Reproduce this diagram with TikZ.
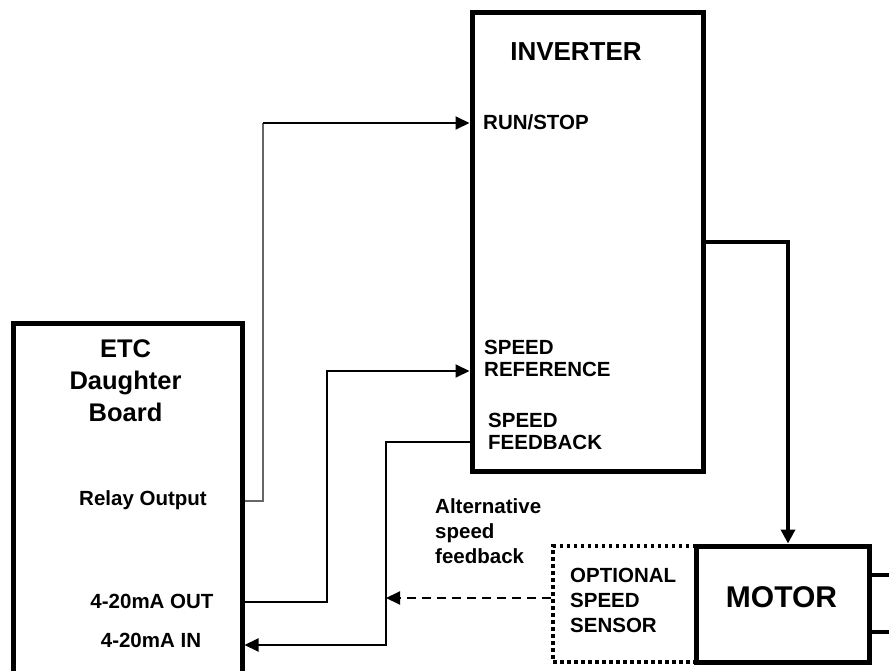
\documentclass[tikz,border=0pt]{standalone}
\usepackage{fontspec}
\setmainfont{Liberation Sans}
\usetikzlibrary{arrows.meta}
\begin{document}
\begin{tikzpicture}[x=1pt,y=-1pt,
  blk/.style={draw,line width=5pt,inner sep=0pt},
  dotbox/.style={draw,line width=3.5pt,dash pattern=on 3.5pt off 3.5pt,inner sep=0pt},
  txt/.style={inner sep=0pt,font=\bfseries\fontsize{20.5}{22}\selectfont,align=left},
  txtb/.style={inner sep=0pt,font=\bfseries\fontsize{20.5}{25}\selectfont,align=left},
  sig/.style={line width=2pt,-{Triangle[length=14pt,width=13pt]}},
  relayline/.style={line width=1.5pt,draw=black!60},
  power/.style={line width=4.5pt,line join=miter,-{Triangle[length=14pt,width=14pt]}},
  shaft/.style={line width=4.5pt}]
\useasboundingbox (0,0) rectangle (889,671);
\clip (0,0) rectangle (889,671);

% blocks
\node[blk,minimum width=229pt,minimum height=380pt] (etc) at (127.5,513) {};
\node[blk,minimum width=231pt,minimum height=458pt] (inv) at (587.5,242) {};
\node[dotbox,minimum width=143pt,minimum height=116pt] (sens) at (624.5,604) {};
\node[blk,minimum width=173pt,minimum height=116pt] (motor) at (782.5,604) {};

% texts
\node[inner sep=0pt,align=center,font=\bfseries\fontsize{25.5}{32}\selectfont] (etct) at (125.5,381) {ETC\\Daughter\\Board};
\node[txt,anchor=base] (relay) at (143,505) {Relay Output};
\node[txt,anchor=base] (out) at (152,608) {4-20mA OUT};
\node[txt,anchor=base] (in) at (151,647) {4-20mA IN};
\node[inner sep=0pt,anchor=base,font=\bfseries\fontsize{26}{30}\selectfont] (invt) at (576,61) {INVERTER};
\node[txt,anchor=base west] (run) at (483,130) {RUN/STOP};
\node[txt,anchor=west] (ref) at (484,358) {SPEED\\REFERENCE};
\node[txt,anchor=west] (fb) at (488,431) {SPEED\\FEEDBACK};
\node[txtb,anchor=west] (alt) at (435,531) {Alternative\\speed\\feedback};
\node[txtb,anchor=west] (opt) at (570,600) {OPTIONAL\\SPEED\\SENSOR};
\node[inner sep=0pt,anchor=base,font=\bfseries\fontsize{30}{34}\selectfont] (mot) at (781.5,607) {MOTOR};

% coordinates for routing
\coordinate (rl) at (263,501);
\coordinate (rt) at (263,123);
\coordinate (a1) at (327,602);
\coordinate (a2) at (327,371);
\coordinate (b1) at (386,442);
\coordinate (b2) at (386,645);
\coordinate (d1) at (386,598);
\coordinate (ko) at (788,242);
\coordinate (s1) at (889,575);
\coordinate (s2) at (889,632);

% connectors
\draw[relayline] (etc.east |- rl) -- (rl) -- (rt);
\draw[sig] (rt) -- (inv.west |- rt);
\draw[sig] (etc.east |- a1) -- (a1) -- (a2) -- (inv.west |- a2);
\draw[sig] (inv.west |- b1) -- (b1) -- (b2) -- (etc.east |- b2);
\draw[sig,dash pattern=on 9pt off 6pt] (sens.west |- d1) -- (d1);
\draw[power] (inv.east |- ko) -- (ko) -- (ko |- motor.north);
\draw[shaft] (motor.east |- s1) -- (s1);
\draw[shaft] (motor.east |- s2) -- (s2);
\end{tikzpicture}
\end{document}
